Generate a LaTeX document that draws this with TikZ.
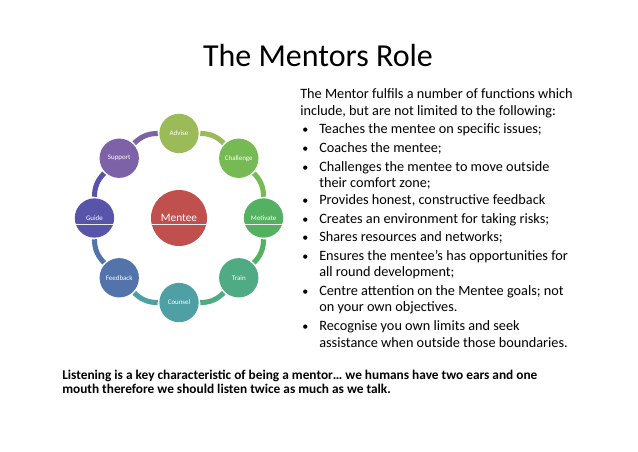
\documentclass[tikz,border=0pt]{standalone}
\usepackage{fontspec}
\setmainfont{Carlito}
\usetikzlibrary{positioning}
\definecolor{mtred}{RGB}{192,80,77}
\definecolor{mtadvise}{RGB}{155,187,89}
\definecolor{mtchallenge}{RGB}{117,186,82}
\definecolor{mtmotivate}{RGB}{84,177,98}
\definecolor{mttrain}{RGB}{80,170,132}
\definecolor{mtcounsel}{RGB}{78,160,165}
\definecolor{mtfeedback}{RGB}{82,116,170}
\definecolor{mtguide}{RGB}{88,84,170}
\definecolor{mtsupport}{RGB}{126,98,168}
\tikzset{
  role/.style={circle,minimum size=29.5pt,inner sep=0pt,text=white,
               font=\fontsize{5.2}{6}\selectfont},
  seam/.style={path picture={\draw[white!85!gray,line width=0.3pt]
               ([yshift=-5pt]path picture bounding box.west) --
               ([yshift=-5pt]path picture bounding box.east);}},
  ringarc/.style={line width=3.8pt,shorten >=1pt,shorten <=1pt},
  bodyline/.style={anchor=base west,inner sep=0pt,font=\fontsize{10.7}{12.8}\selectfont},
  bulletmark/.style={anchor=base west,inner sep=0pt,font=\fontsize{9}{12}\selectfont},
  boldline/.style={anchor=base west,inner sep=0pt,font=\fontsize{10}{12}\selectfont\bfseries}
}
\begin{document}
\begin{tikzpicture}[x=0.75pt,y=0.75pt]
  \useasboundingbox (0,0) rectangle (638,-451);
  %% Title
  \node[anchor=base,inner sep=0pt,font=\fontsize{24}{29}\selectfont]
        (title) at (318,-66) {The Mentors Role};
  %% Cycle: Mentee in the middle, roles round it
  \coordinate (c) at (179,-218);
  \node[role,seam,fill=mtred,minimum size=42pt,font=\fontsize{8.5}{10}\selectfont]
        (mentee) at (c) {Mentee};
  \foreach \nm/\lbl/\ang/\col in {advise/Advise/90/mtadvise,
      challenge/Challenge/45/mtchallenge, train/Train/-45/mttrain,
      counsel/Counsel/-90/mtcounsel, feedback/Feedback/-135/mtfeedback,
      support/Support/135/mtsupport}
    \node[role,fill=\col] (\nm) at ([shift={(\ang:63.4pt)}]c) {\lbl};
  \node[role,seam,fill=mtmotivate] (motivate) at ([shift={(0:63.4pt)}]c) {Motivate};
  \node[role,seam,fill=mtguide] (guide) at ([shift={(180:63.4pt)}]c) {Guide};
  \foreach \a/\b/\col in {advise/challenge/mtadvise, challenge/motivate/mtchallenge,
      motivate/train/mtmotivate, train/counsel/mttrain, counsel/feedback/mtcounsel,
      feedback/guide/mtfeedback, guide/support/mtguide, support/advise/mtsupport}
    \draw[ringarc,\col] (\a) to[bend left=22.5] (\b);
  %% Functions of the mentor
  \node[bodyline] (intro1) at (300,-98) {The Mentor fulfils a number of functions which};
  \node[bodyline] (intro2) at (300,-115) {include, but are not limited to the following:};
  \foreach \y in {133,152,171,204,223,241,260,295,330}
    \node[bulletmark] (bul\y) at (302,-\y) {\textbullet};
  \node[bodyline] (fn1) at (319,-133) {Teaches the mentee on specific issues;};
  \node[bodyline] (fn2) at (319,-152) {Coaches the mentee;};
  \node[bodyline] (fn3a) at (319,-171) {Challenges the mentee to move outside};
  \node[bodyline] (fn3b) at (319,-187) {their comfort zone;};
  \node[bodyline] (fn4) at (319,-204) {Provides honest, constructive feedback};
  \node[bodyline] (fn5) at (319,-223) {Creates an environment for taking risks;};
  \node[bodyline] (fn6) at (319,-241) {Shares resources and networks;};
  \node[bodyline] (fn7a) at (319,-260) {Ensures the mentee’s has opportunities for};
  \node[bodyline] (fn7b) at (319,-276) {all round development;};
  \node[bodyline] (fn8a) at (319,-295) {Centre attention on the Mentee goals; not};
  \node[bodyline] (fn8b) at (319,-311) {on your own objectives.};
  \node[bodyline] (fn9a) at (319,-330) {Recognise you own limits and seek};
  \node[bodyline] (fn9b) at (319,-347) {assistance when outside those boundaries.};
  %% Closing remark
  \node[boldline] (note1) at (62,-379)
        {Listening is a key characteristic of being a mentor… we humans have two ears and one};
  \node[boldline] (note2) at (62,-393)
        {mouth therefore we should listen twice as much as we talk.};
\end{tikzpicture}
\end{document}
